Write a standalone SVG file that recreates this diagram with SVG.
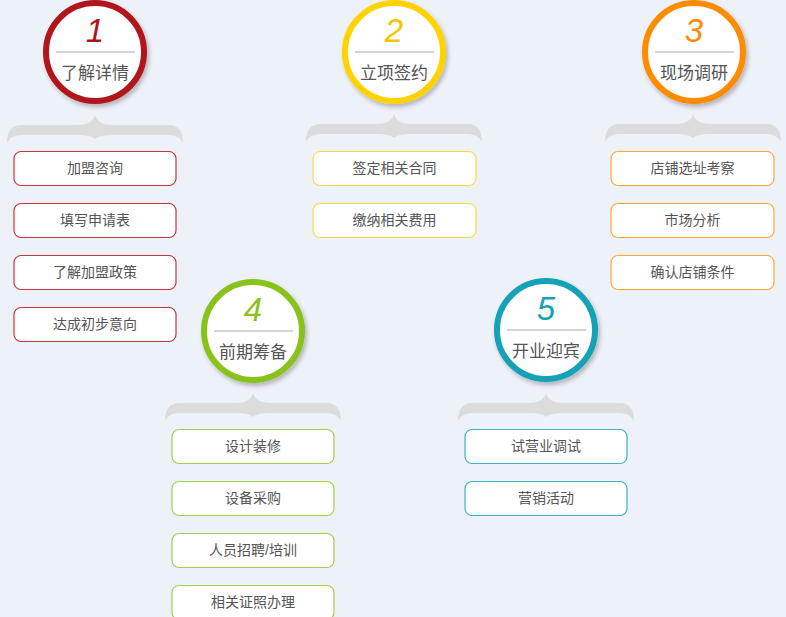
<svg xmlns="http://www.w3.org/2000/svg" width="786" height="617" viewBox="0 0 786 617">
<defs>
<filter id="sh" x="-20%" y="-20%" width="150%" height="150%">
<feDropShadow dx="2" dy="3" stdDeviation="2" flood-color="#000" flood-opacity="0.25"/>
</filter>
<path id="brace" d="M0,0 C2,7 8,10 18,10 L74,10 C83,10 88,16 88,28 C85,22 80,20 72,20 L18,20 C9,20 3,21 0,24 C-3,21 -9,20 -18,20 L-72,20 C-80,20 -85,22 -88,28 C-88,16 -83,10 -74,10 L-18,10 C-8,10 -2,7 0,0 Z"/>
</defs>
<style>
.bg{fill:#edf1f8}
.circ{fill:#fff;stroke-width:6;filter:url(#sh)}
.sep{stroke:#aaa;stroke-width:1}
.num{font-family:"Liberation Sans","DejaVu Sans",sans-serif;font-style:italic;font-size:33px;text-anchor:middle}
.ttl{font-family:"Liberation Sans","Noto Sans CJK SC",sans-serif;font-size:17px;fill:#555;text-anchor:middle}
.br{fill:#dcdcdc}
.box{fill:#fff;stroke-width:1.2}
.bt{font-family:"Liberation Sans","Noto Sans CJK SC",sans-serif;font-size:14px;fill:#555;text-anchor:middle}
.c1{stroke:#b0141a}.f1{fill:#b0141a}.b1{stroke:#c8353a}
.c2{stroke:#ffd200}.f2{fill:#f5c400}.b2{stroke:#ffd84a}
.c3{stroke:#ff8c00}.f3{fill:#ff8c00}.b3{stroke:#ffa53a}
.c4{stroke:#8ac21e}.f4{fill:#8ac21e}.b4{stroke:#a3d04a}
.c5{stroke:#16a2b6}.f5{fill:#16a2b6}.b5{stroke:#3fb3c3}
</style>
<rect class="bg" width="786" height="617"/>

<g id="connectors">
<use href="#brace" class="br" x="95" y="115"/>
<use href="#brace" class="br" x="394" y="114"/>
<use href="#brace" class="br" x="693" y="114"/>
<use href="#brace" class="br" x="253" y="393"/>
<use href="#brace" class="br" x="546" y="393"/>
</g>

<g id="step1">
<circle class="circ c1" cx="95" cy="52" r="49"/>
<text class="num f1" x="95" y="42">1</text>
<line class="sep" x1="56" y1="52" x2="135" y2="52"/>
<text class="ttl" x="95" y="79">了解详情</text>
</g>
<g id="step2">
<circle class="circ c2" cx="394" cy="52" r="49"/>
<text class="num f2" x="394" y="42">2</text>
<line class="sep" x1="355" y1="52" x2="434" y2="52"/>
<text class="ttl" x="394" y="79">立项签约</text>
</g>
<g id="step3">
<circle class="circ c3" cx="694" cy="52" r="49"/>
<text class="num f3" x="694" y="42">3</text>
<line class="sep" x1="655" y1="52" x2="734" y2="52"/>
<text class="ttl" x="694" y="79">现场调研</text>
</g>
<g id="step4">
<circle class="circ c4" cx="253" cy="331" r="49"/>
<text class="num f4" x="253" y="321">4</text>
<line class="sep" x1="214" y1="331" x2="293" y2="331"/>
<text class="ttl" x="253" y="358">前期筹备</text>
</g>
<g id="step5">
<circle class="circ c5" cx="546" cy="330" r="49"/>
<text class="num f5" x="546" y="320">5</text>
<line class="sep" x1="507" y1="330" x2="586" y2="330"/>
<text class="ttl" x="546" y="357">开业迎宾</text>
</g>

<g id="col1">
<g id="b1a"><rect class="box b1" x="14" y="151.5" width="162" height="34" rx="7"/><text class="bt" x="95" y="173">加盟咨询</text></g>
<g id="b1b"><rect class="box b1" x="14" y="203.5" width="162" height="34" rx="7"/><text class="bt" x="95" y="225">填写申请表</text></g>
<g id="b1c"><rect class="box b1" x="14" y="255.5" width="162" height="34" rx="7"/><text class="bt" x="95" y="277">了解加盟政策</text></g>
<g id="b1d"><rect class="box b1" x="14" y="307.5" width="162" height="34" rx="7"/><text class="bt" x="95" y="329">达成初步意向</text></g>
</g>
<g id="col2">
<g id="b2a"><rect class="box b2" x="313" y="151.5" width="163" height="34" rx="7"/><text class="bt" x="394.5" y="173">签定相关合同</text></g>
<g id="b2b"><rect class="box b2" x="313" y="203.5" width="163" height="34" rx="7"/><text class="bt" x="394.5" y="225">缴纳相关费用</text></g>
</g>
<g id="col3">
<g id="b3a"><rect class="box b3" x="611" y="151.5" width="163" height="34" rx="7"/><text class="bt" x="692.5" y="173">店铺选址考察</text></g>
<g id="b3b"><rect class="box b3" x="611" y="203.5" width="163" height="34" rx="7"/><text class="bt" x="692.5" y="225">市场分析</text></g>
<g id="b3c"><rect class="box b3" x="611" y="255.5" width="163" height="34" rx="7"/><text class="bt" x="692.5" y="277">确认店铺条件</text></g>
</g>
<g id="col4">
<g id="b4a"><rect class="box b4" x="172" y="429.5" width="162" height="34" rx="7"/><text class="bt" x="253" y="451">设计装修</text></g>
<g id="b4b"><rect class="box b4" x="172" y="481.5" width="162" height="34" rx="7"/><text class="bt" x="253" y="503">设备采购</text></g>
<g id="b4c"><rect class="box b4" x="172" y="533.5" width="162" height="34" rx="7"/><text class="bt" x="253" y="555">人员招聘/培训</text></g>
<g id="b4d"><rect class="box b4" x="172" y="585.5" width="162" height="34" rx="7"/><text class="bt" x="253" y="607">相关证照办理</text></g>
</g>
<g id="col5">
<g id="b5a"><rect class="box b5" x="465" y="429.5" width="162" height="34" rx="7"/><text class="bt" x="546" y="451">试营业调试</text></g>
<g id="b5b"><rect class="box b5" x="465" y="481.5" width="162" height="34" rx="7"/><text class="bt" x="546" y="503">营销活动</text></g>
</g>
</svg>
